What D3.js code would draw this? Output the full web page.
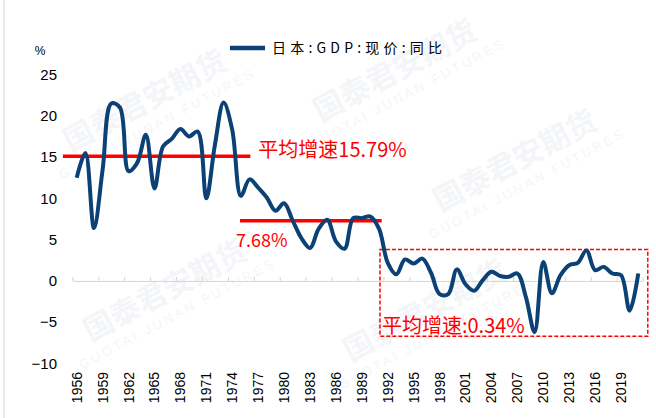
<!DOCTYPE html>
<html>
<head>
<meta charset="utf-8">
<script src="https://cdn.jsdelivr.net/npm/d3@7/dist/d3.min.js"></script>
<style>
  body { margin: 0; background: #fff; }
  svg { display: block; font-family: "Liberation Sans", Arial, sans-serif; }
</style>
</head>
<body>
<svg id="chart" width="656" height="418"></svg>
<script>
// categories and series
const years = d3.range(1956, 2022);
const gdpYoY = [
  12.5, 15.5, 6.4, 13.5, 21.5, 21.0, 13.3, 14.3, 17.7, 11.2,
  16.3, 17.2, 18.4, 17.5, 18.1, 10.0, 16.5, 21.6, 18.3, 10.3,
  12.3, 11.3, 10.1, 8.5, 9.4, 7.3, 5.2, 4.0, 6.3, 7.4,
  4.8, 3.9, 7.6, 7.6, 7.8, 6.3, 2.2, 0.8, 2.6, 2.1,
  2.7, 1.0, -1.6, -1.6, 1.4, -0.4, -1.2, 0.1, 1.1, 0.6,
  0.5, 0.9, -2.0, -6.2, 2.3, -1.5, 0.7, 1.9, 2.2, 3.7,
  1.3, 1.7, 0.9, 0.7, -3.6, 0.9
];
const yTicks = [-10, -5, 0, 5, 10, 15, 20, 25];
const seriesName = "日本:GDP:现价:同比";

// average-growth annotations (years / % values)
const avgFrom = [1954.4, 1974.9];
const avgTo = [1976.1, 1991.3];
const avgLevel = [15.1, 7.3];
const avgText = ["平均增速15.79%", "7.68%"];
const boxYears = [1991.1, 2022.1];
const boxValues = [-6.7, 3.8];
const boxText = "平均增速:0.34%";

const svg = d3.select("#chart");

const x = d3.scaleLinear().domain([1955.5, 2021.5]).range([72.4, 642.6]);
const y = d3.scaleLinear().domain([-10, 25]).range([363.5, 74.5]);

const blue = "#0b4174";
const red = "#ff0000";

// faint watermarks
const wm = [[150, 110], [400, 80], [520, 170], [170, 300], [430, 320]];
wm.forEach(([wx, wy]) => {
  const g = svg.append("g").attr("transform", `translate(${wx},${wy}) rotate(-28)`).attr("opacity", 0.05);
  g.append("text").attr("text-anchor", "middle").attr("font-size", 30).attr("font-weight", "bold")
    .attr("font-family", "Noto Sans CJK SC").attr("fill", "#2a5a8a").text("国泰君安期货");
  g.append("text").attr("text-anchor", "middle").attr("y", 20).attr("font-size", 13)
    .attr("letter-spacing", 3).attr("fill", "#2a5a8a").text("GUOTAI JUNAN FUTURES");
});

// left border line
svg.append("line").attr("x1", 4).attr("x2", 4).attr("y1", 0).attr("y2", 418)
  .attr("stroke", "#e3e3e3").attr("stroke-width", 1.5);

// x axis at zero with boundary ticks
const tickBounds = d3.range(0, 23).map(k => 1955.5 + 3 * k).filter(v => v <= 2021.5);
svg.append("g")
  .attr("transform", `translate(0,${y(0)})`)
  .call(d3.axisTop(x).tickValues(tickBounds).tickSize(4).tickSizeOuter(0).tickFormat(""))
  .call(g => g.select(".domain").attr("stroke", "#d4d4d4"))
  .call(g => g.selectAll(".tick line").attr("stroke", "#d4d4d4"));

// x labels, rotated, at bottom
svg.append("g").selectAll("text")
  .data(years.filter((d, i) => i % 3 === 0))
  .join("text")
  .attr("transform", d => `translate(${x(d) + 5},372) rotate(-90)`)
  .attr("text-anchor", "end")
  .attr("font-size", 14)
  .attr("fill", "#000")
  .text(d => d);

// y labels
svg.append("g").selectAll("text")
  .data(yTicks)
  .join("text")
  .attr("x", 57)
  .attr("y", d => y(d))
  .attr("dy", "0.35em")
  .attr("text-anchor", "end")
  .attr("font-size", 15)
  .text(d => d < 0 ? "\u2212" + Math.abs(d) : d);

svg.append("text").attr("x", 40).attr("y", 55).attr("text-anchor", "middle")
  .attr("font-size", 12).text("%");

// legend
svg.append("line").attr("x1", 230).attr("x2", 265).attr("y1", 48).attr("y2", 48)
  .attr("stroke", blue).attr("stroke-width", 4.5);
svg.append("text").attr("x", 272).attr("y", 53)
  .attr("font-family", "Noto Sans CJK SC").attr("font-size", 14)
  .attr("letter-spacing", 4.2).text(seriesName);

// average lines
avgLevel.forEach((lv, i) => {
  svg.append("line")
    .attr("x1", x(avgFrom[i])).attr("x2", x(avgTo[i]))
    .attr("y1", y(lv)).attr("y2", y(lv))
    .attr("stroke", red).attr("stroke-width", 3.5);
});

// dashed box
svg.append("rect")
  .attr("x", x(boxYears[0])).attr("y", y(boxValues[1]))
  .attr("width", x(boxYears[1]) - x(boxYears[0]))
  .attr("height", y(boxValues[0]) - y(boxValues[1]))
  .attr("fill", "none").attr("stroke", red).attr("stroke-width", 1.5)
  .attr("stroke-dasharray", "4,2");

// series line
const line = d3.line()
  .x((d, i) => x(years[i]))
  .y(d => y(d))
  .curve(d3.curveCatmullRom.alpha(0.5));

svg.append("path")
  .datum(gdpYoY)
  .attr("fill", "none")
  .attr("stroke", blue)
  .attr("stroke-width", 4)
  .attr("stroke-linejoin", "round")
  .attr("d", line);

// annotation texts
svg.append("text").attr("x", x(avgTo[0]) + 8).attr("y", y(avgLevel[0]) + 1)
  .attr("font-family", "Noto Sans CJK SC").attr("font-size", 20).attr("fill", red)
  .text(avgText[0]);
svg.append("text").attr("x", x(avgFrom[1]) - 4).attr("y", y(avgLevel[1]) + 26)
  .attr("font-family", "Noto Sans CJK SC").attr("font-size", 18).attr("fill", red)
  .text(avgText[1]);
svg.append("text").attr("x", x(boxYears[0]) + 2).attr("y", y(boxValues[0]) - 3)
  .attr("font-family", "Noto Sans CJK SC").attr("font-size", 20).attr("fill", red)
  .text(boxText);
</script>
</body>
</html>
